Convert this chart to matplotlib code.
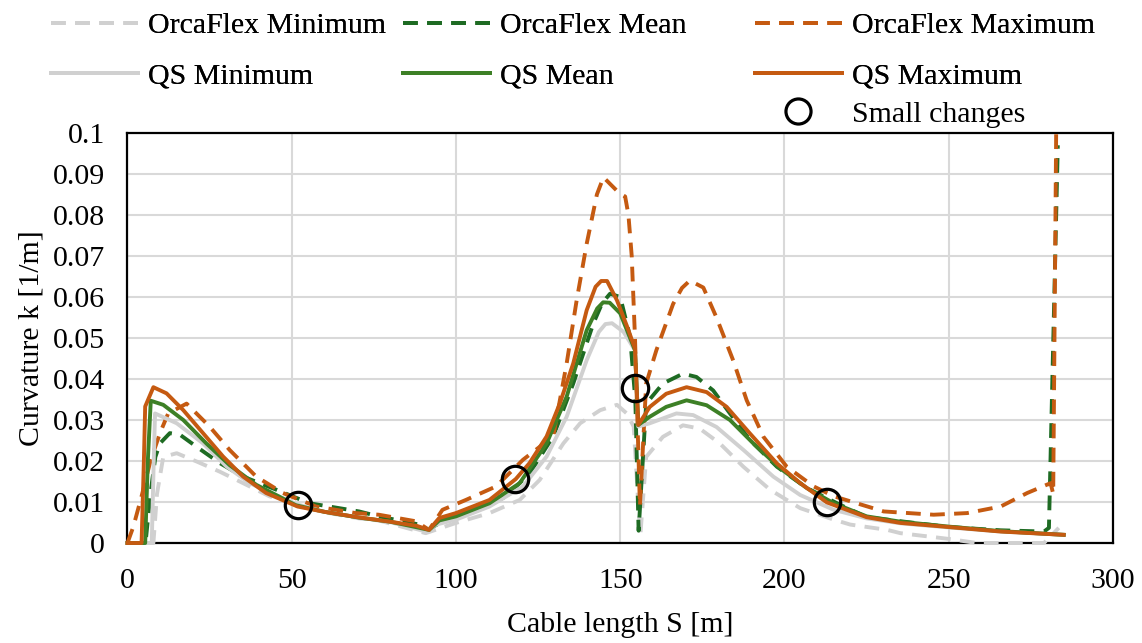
import matplotlib.pyplot as plt

# OrcaFlex results (dashed)
of_min_s = [0, 7.9, 9.0, 10.9, 15, 21, 28.1, 35.2, 43.2, 52, 60, 70.5, 76.5, 90.8, 100, 110.2, 119.4, 125.5,
            132.7, 137.8, 143.9, 149, 152, 154.1, 156.1, 157.9, 163, 169.1, 174.2, 180.3, 187.5, 195.6, 204.8,
            215, 220, 231.3, 235.3, 250, 258.6, 279, 283.5]
of_min_k = [0, 0, 0.012, 0.021, 0.0219, 0.0199, 0.0174, 0.0146, 0.0114, 0.0092, 0.0075, 0.006, 0.0055, 0.0024,
            0.0049, 0.0073, 0.0105, 0.0154, 0.0243, 0.0292, 0.0324, 0.0337, 0.0316, 0.0284, 0.0016, 0.021, 0.0259,
            0.0287, 0.0279, 0.0243, 0.0186, 0.013, 0.0085, 0.0057, 0.0045, 0.0032, 0.0024, 0.001, 0.0, 0.0, 0.0037]

of_mean_s = [0, 5.5, 7.0, 8.5, 9.9, 12.9, 16, 21, 28.1, 35.2, 45.3, 55.4, 70.5, 76.5, 88.8, 91.3, 96.9, 107.1,
             115.3, 122.4, 129.6, 135.7, 141.8, 144.5, 146.9, 150, 153, 154.6, 155.6, 157.9, 163, 169.1, 173.2,
             178.3, 183.4, 189.5, 197.7, 206.8, 217, 225, 250, 265.8, 279, 280.5, 283.2]
of_mean_k = [0, 0, 0.012, 0.021, 0.0243, 0.0268, 0.0264, 0.0235, 0.0195, 0.0162, 0.013, 0.0097, 0.0077, 0.0065,
             0.0045, 0.0032, 0.0057, 0.0081, 0.0114, 0.017, 0.026, 0.0389, 0.0535, 0.0585, 0.0608, 0.06, 0.0503,
             0.0349, 0.003, 0.034, 0.0389, 0.0413, 0.0405, 0.0372, 0.0316, 0.0251, 0.0186, 0.0134, 0.0093, 0.0063,
             0.0039, 0.0031, 0.0028, 0.0037, 0.097]

of_max_s = [0, 1.8, 4.3, 7.0, 9.9, 12.4, 18, 25, 31.1, 39.2, 47.3, 57.4, 69.5, 76.5, 87.8, 91.8, 95.9, 103,
            112.2, 120.4, 129.6, 133.7, 136.7, 139.8, 142.9, 144.9, 147.0, 149.5, 151.5, 152.5, 153.5, 154.5,
            156.0, 157.9, 161, 166.1, 168.8, 171.2, 175.3, 179.3, 184.4, 188.5, 193.6, 200.7, 208.9, 215, 230.2,
            245.4, 255.6, 265.8, 273.9, 281, 281.8, 282.7]
of_max_k = [0, 0.004, 0.0114, 0.02, 0.0268, 0.0316, 0.034, 0.0284, 0.0227, 0.0162, 0.0122, 0.0089, 0.0073, 0.0069,
            0.0053, 0.0032, 0.0081, 0.0105, 0.0138, 0.0203, 0.026, 0.0438, 0.059, 0.073, 0.085, 0.0892, 0.0875,
            0.0855, 0.0845, 0.08, 0.07, 0.05, 0.009, 0.0389, 0.047, 0.0583, 0.0622, 0.064, 0.0623, 0.055, 0.0445,
            0.0348, 0.0259, 0.0186, 0.0138, 0.0114, 0.0077, 0.0069, 0.0073, 0.0089, 0.0122, 0.0146, 0.012, 0.1]

# quasi-static results (solid)
qs_min_s = [0, 7.4, 8.0, 8.4, 15, 23, 30.1, 37.2, 51.3, 60, 70.5, 80, 90.8, 94, 100, 110.2, 120.4, 127.6, 133.7,
            139.8, 143.5, 145.5, 147.5, 151, 154.5, 155.5, 159, 167.1, 172.2, 179.3, 187.5, 196.6, 204.8, 215, 225,
            235.3, 250, 265.8, 285]
qs_min_k = [0, 0, 0.02, 0.0316, 0.0292, 0.0243, 0.0187, 0.0146, 0.0095, 0.0076, 0.0062, 0.0051, 0.0028, 0.0045,
            0.0057, 0.0089, 0.0138, 0.0211, 0.0308, 0.0446, 0.0515, 0.0534, 0.0536, 0.0515, 0.047, 0.0284, 0.0292,
            0.0316, 0.0312, 0.0283, 0.0227, 0.0162, 0.0117, 0.0081, 0.006, 0.0048, 0.0038, 0.0028, 0.002]

qs_mean_s = [0, 5.4, 6.2, 7.1, 10.9, 17, 24, 31.1, 39.2, 51.3, 60, 70.5, 80, 91.8, 94.9, 100, 110.2, 119.4,
             127.6, 133.7, 139.8, 143, 144.8, 146.8, 150, 154.5, 155.5, 159, 164, 170.2, 176.3, 183.4, 190.5,
             198.7, 206.8, 215, 225, 235.3, 250, 265.8, 285]
qs_mean_k = [0, 0, 0.02, 0.0347, 0.0337, 0.03, 0.0243, 0.019, 0.0142, 0.0092, 0.0076, 0.0062, 0.0052, 0.0032,
             0.0055, 0.0065, 0.0097, 0.0146, 0.0243, 0.0357, 0.0519, 0.0572, 0.0587, 0.0586, 0.056, 0.047, 0.0288,
             0.0308, 0.0332, 0.0348, 0.0336, 0.03, 0.0243, 0.0182, 0.0134, 0.0097, 0.0065, 0.0052, 0.004, 0.0029,
             0.002]

qs_max_s = [0, 4.3, 5.0, 5.4, 7.9, 11.9, 17, 23, 29.1, 35.2, 42.2, 51.8, 60, 70, 80, 88, 91.8, 94.9, 100, 110.2,
            118.2, 122.4, 127.6, 131.6, 135.7, 139.8, 142.5, 144.2, 146.0, 149, 152, 154.5, 155.5, 159, 164, 170.2,
            176.3, 182.4, 189.5, 197.7, 204.8, 212.9, 225, 235.3, 250, 265.8, 285]
qs_max_k = [0, 0, 0.02, 0.0333, 0.038, 0.0365, 0.0324, 0.0268, 0.0211, 0.0162, 0.0122, 0.0089, 0.0076, 0.0063,
            0.0052, 0.0042, 0.0032, 0.0061, 0.0073, 0.0105, 0.0156, 0.0195, 0.026, 0.034, 0.0438, 0.0568, 0.0625,
            0.0639, 0.0639, 0.0592, 0.053, 0.0474, 0.0288, 0.0332, 0.0364, 0.038, 0.0368, 0.0332, 0.0267, 0.0194,
            0.0146, 0.0099, 0.0063, 0.0049, 0.0039, 0.0028, 0.002]

# marked spots
circle_s = [52, 118, 154.5, 212.8]
circle_k = [0.0092, 0.0157, 0.0378, 0.0101]

x_ticks = [0, 50, 100, 150, 200, 250, 300]
y_ticks = [0, 0.01, 0.02, 0.03, 0.04, 0.05, 0.06, 0.07, 0.08, 0.09, 0.1]
y_tick_labels = ['0', '0.01', '0.02', '0.03', '0.04', '0.05', '0.06', '0.07', '0.08', '0.09', '0.1']

grey = '#D0D0D0'
green_solid = '#3D8026'
green_dash = '#1E6B23'
orange = '#C55A11'
dash = (0, (3.8, 2.4))
lw = 2.8
fs = 21.5

plt.rcParams['font.family'] = 'Liberation Serif'

fig = plt.figure(figsize=(11.42, 6.43), dpi=100)
ax = fig.add_axes([0.1116, 0.1555, 0.863, 0.6377])

line_kw = dict(lw=lw, zorder=3, clip_on=False)
l1, = ax.plot(of_min_s, of_min_k, color=grey, ls=dash, label='OrcaFlex Minimum', **line_kw)
l2, = ax.plot(of_mean_s, of_mean_k, color=green_dash, ls=dash, label='OrcaFlex Mean', **line_kw)
l3, = ax.plot(of_max_s, of_max_k, color=orange, ls=dash, label='OrcaFlex Maximum', **line_kw)
l4, = ax.plot(qs_min_s, qs_min_k, color=grey, label='QS Minimum', **line_kw)
l5, = ax.plot(qs_mean_s, qs_mean_k, color=green_solid, label='QS Mean', **line_kw)
l6, = ax.plot(qs_max_s, qs_max_k, color=orange, label='QS Maximum', **line_kw)
l7, = ax.plot(circle_s, circle_k, ls='none', marker='o', ms=19, mfc='none', mec='black', mew=2.3,
              zorder=4, label='Small changes')

ax.set_xlim(0, 300)
ax.set_ylim(0, 0.1)
ax.set_xticks(x_ticks)
ax.set_yticks(y_ticks)
ax.set_yticklabels(y_tick_labels)
ax.tick_params(length=0, labelsize=fs)
ax.tick_params(axis='y', pad=16)
ax.tick_params(axis='x', pad=18)
ax.grid(True, color='#D9D9D9', lw=1.5)
ax.set_axisbelow(True)
for sp in ax.spines.values():
    sp.set_color('black')
    sp.set_linewidth(1.6)

ax.set_xlabel('Cable length S [m]', fontsize=fs, labelpad=13)
ax.set_ylabel('Curvature k [1/m]', fontsize=fs, labelpad=6)

# legend built column by column, like the original layout
columns = [([l1, l4], 0.0447), ([l2, l5], 0.3529), ([l3, l6], 0.6611)]
for handles, x0 in columns:
    leg = fig.legend(handles=handles, loc='upper left', bbox_to_anchor=(x0, 0.981), frameon=False,
                     fontsize=fs, handlelength=2.91, handletextpad=0.33, labelspacing=0.8,
                     borderaxespad=0, borderpad=0)
    fig.add_artist(leg)

fig.legend(handles=[l7], loc='upper left', bbox_to_anchor=(0.6611, 0.843), frameon=False, fontsize=fs,
           handlelength=2.91, handletextpad=0.33, borderaxespad=0, borderpad=0, markerscale=0.95)

fig.savefig('out.png', dpi=100)
